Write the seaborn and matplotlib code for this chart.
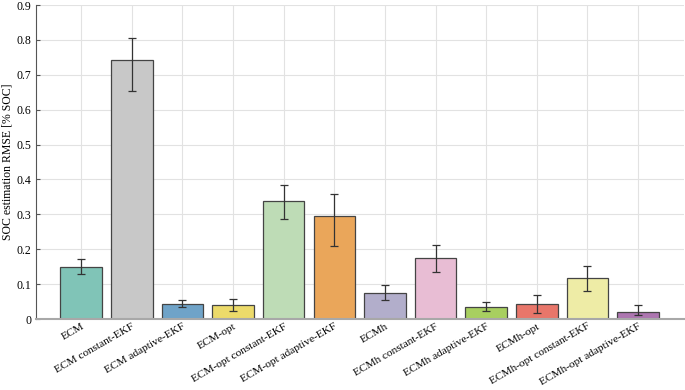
import numpy as np
import pandas as pd
import matplotlib
matplotlib.use('Agg')
import matplotlib.pyplot as plt
import seaborn as sns

# Datos
metodos = ['ECM', 'ECM constant-EKF', 'ECM adaptive-EKF', 'ECM-opt',
           'ECM-opt constant-EKF', 'ECM-opt adaptive-EKF', 'ECMh',
           'ECMh constant-EKF', 'ECMh adaptive-EKF', 'ECMh-opt',
           'ECMh-opt constant-EKF', 'ECMh-opt adaptive-EKF']
rmse = [0.150, 0.742, 0.042, 0.039, 0.339, 0.296, 0.074, 0.176, 0.034, 0.042, 0.117, 0.020]
err_inf = [0.022, 0.087, 0.008, 0.016, 0.052, 0.086, 0.020, 0.040, 0.012, 0.026, 0.038, 0.009]
err_sup = [0.023, 0.065, 0.012, 0.017, 0.044, 0.061, 0.023, 0.036, 0.014, 0.028, 0.036, 0.019]
colores = ['#80c4b7', '#c8c8c8', '#6fa3c8', '#ecda6a', '#bedcb6', '#eaa65a',
           '#b2aecb', '#e8bdd4', '#a8cf60', '#e8766a', '#eeeca6', '#ad76b0']

df = pd.DataFrame({'metodo': metodos, 'rmse': rmse})

plt.rcParams['font.family'] = ['Liberation Serif', 'DejaVu Serif']

fig, ax = plt.subplots(figsize=(6.85, 3.9), dpi=100)
sns.barplot(data=df, x='metodo', y='rmse', hue='metodo', palette=colores,
            saturation=1, legend=False, errorbar=None, width=0.82,
            edgecolor='#444444', linewidth=0.9, ax=ax, zorder=2)
ax.errorbar(np.arange(len(metodos)), rmse, yerr=[err_inf, err_sup], fmt='none',
            ecolor='#333333', elinewidth=0.9, capsize=2.6, capthick=0.9, zorder=3)

ax.set_ylim(0, 0.9)
ax.set_xlim(-0.9, 11.9)
ax.set_yticks(np.arange(0, 0.91, 0.1))
ax.set_yticklabels(['0'] + [f'{v:.1f}' for v in np.arange(0.1, 0.91, 0.1)])
ax.set_xlabel('')
ax.set_ylabel('SOC estimation RMSE [% SOC]', fontsize=8.5, labelpad=2)
ax.tick_params(axis='y', labelsize=8.5, direction='in', length=3, color='#555555', pad=3)
ax.tick_params(axis='x', labelsize=8.2, length=0, pad=2)
plt.setp(ax.get_xticklabels(), rotation=30, ha='right', rotation_mode='anchor')

ax.grid(True, color='#e2e2e2', linewidth=0.8, zorder=0)
ax.set_axisbelow(True)
for lado in ['top', 'right']:
    ax.spines[lado].set_visible(False)
ax.spines['left'].set_color('#555555')
ax.spines['left'].set_linewidth(0.8)
ax.spines['bottom'].set_color('#a8a8a8')
ax.spines['bottom'].set_linewidth(1.5)

plt.subplots_adjust(left=0.052, right=0.998, top=0.987, bottom=0.182)
plt.savefig('out.png', dpi=100)
